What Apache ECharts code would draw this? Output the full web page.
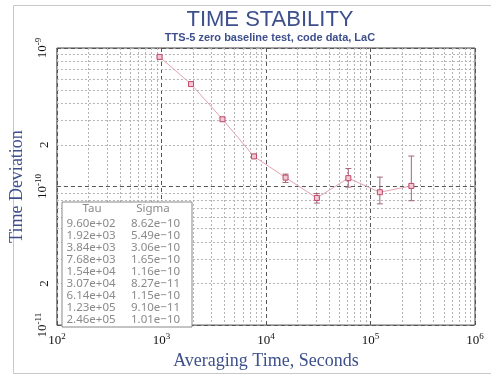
<!DOCTYPE html>
<html><head><meta charset="utf-8">
<script src="https://cdn.jsdelivr.net/npm/echarts@6/dist/echarts.min.js"></script>
<style>html,body{margin:0;padding:0;background:#fff}#c{width:491px;height:375px}</style>
</head><body><div id="c"></div>
<script>
// ---- data ----
const tau = [960, 1920, 3840, 7680, 15400, 30700, 61400, 123000, 246000];
const sigma = [8.62e-10, 5.49e-10, 3.06e-10, 1.65e-10, 1.16e-10, 8.27e-11, 1.15e-10, 9.10e-11, 1.01e-10];
const errLow = [8.45e-10, 5.36e-10, 2.97e-10, 1.60e-10, 1.07e-10, 7.6e-11, 9.9e-11, 7.5e-11, 7.9e-11];
const errHigh = [8.80e-10, 5.62e-10, 3.15e-10, 1.71e-10, 1.23e-10, 8.9e-11, 1.35e-10, 1.17e-10, 1.66e-10];
const xTicks = [1e2, 1e3, 1e4, 1e5, 1e6];
const yTicks = [1e-11, 2e-11, 1e-10, 2e-10, 1e-9];
const tableHeader = ['Tau', 'Sigma'];

const BLUE = '#3d4f8c';
function sci(v){
  let e = Math.floor(Math.log10(v)); let m = v / Math.pow(10, e);
  if (m >= 9.995) { m /= 10; e += 1; }
  return m.toFixed(2) + 'e' + (e < 0 ? '\u2212' : '+') + String(Math.abs(e)).padStart(2, '0');
}
function fmtLog(v){
  const e = Math.round(Math.log10(v));
  const m = v / Math.pow(10, e);
  if (Math.abs(m - 1) < 1e-6) return '{b|10}{s|' + e + '}';
  return '{b|' + Math.round(v / Math.pow(10, Math.floor(Math.log10(v) + 1e-9))) + '}';
}
const rich = {
  b: {fontFamily: 'Liberation Serif', fontSize: 13, color: '#111'},
  s: {fontFamily: 'Liberation Serif', fontSize: 9, color: '#111', padding: [0, 0, 8, 0]}
};

// minor grid positions (axis structure, 2..9 per decade)
const minorGrid = [];
for (let d = 2; d < 6; d++) for (let k = 2; k < 10; k++) minorGrid.push(['x', k * Math.pow(10, d)]);
for (let d = -11; d < -9; d++) for (let k = 2; k < 10; k++) minorGrid.push(['y', k * Math.pow(10, d)]);

const TZ = 100;
const tableEls = [];
const tfont = '11.5px "Noto Sans"';
tableEls.push({type: 'rect', z: TZ, shape: {x: 62, y: 202, width: 130, height: 125},
  style: {fill: '#fff', stroke: '#888', lineWidth: 1}});
tableEls.push({type: 'text', z: TZ + 1, style: {text: tableHeader[0], x: 92, y: 209, align: 'center', verticalAlign: 'middle', font: tfont, fill: '#8a8a8a'}});
tableEls.push({type: 'text', z: TZ + 1, style: {text: tableHeader[1], x: 153, y: 209, align: 'center', verticalAlign: 'middle', font: tfont, fill: '#8a8a8a'}});
tau.forEach((t, i) => {
  const y = 223.3 + i * 12.05;
  tableEls.push({type: 'text', z: TZ + 1, style: {text: sci(t), x: 66.5, y: y, align: 'left', verticalAlign: 'middle', font: tfont, fill: '#8a8a8a'}});
  tableEls.push({type: 'text', z: TZ + 1, style: {text: sci(sigma[i]), x: 131, y: y, align: 'left', verticalAlign: 'middle', font: tfont, fill: '#8a8a8a'}});
});

const chart = echarts.init(document.getElementById('c'), null, {renderer: 'canvas'});
chart.setOption({
  animation: false,
  backgroundColor: '#fff',
  title: [
    {text: 'TIME STABILITY', left: 270, top: 9, textAlign: 'center', padding: 0,
     textStyle: {fontFamily: 'Liberation Sans', fontSize: 22, fontWeight: 'normal', color: BLUE}},
    {text: 'TTS-5 zero baseline test, code data, LaC', left: 270, top: 32, textAlign: 'center', padding: 0,
     textStyle: {fontFamily: 'Liberation Sans', fontSize: 11, fontWeight: 'bold', color: BLUE}}
  ],
  grid: {left: 54, top: 48, right: 16, bottom: 42, show: true, borderColor: '#444', borderWidth: 1},
  xAxis: {
    type: 'log', logBase: 10, min: 100, max: 1e6,
    axisLine: {show: false}, axisTick: {show: false},
    splitLine: {show: true, lineStyle: {color: '#555', type: [4, 3], width: 1}},
    axisLabel: {formatter: fmtLog, rich: rich, margin: 7, customValues: xTicks},
    name: 'Averaging Time, Seconds', nameLocation: 'middle', nameGap: 21,
    nameTextStyle: {fontFamily: 'Liberation Serif', fontSize: 18, color: BLUE}
  },
  yAxis: {
    type: 'log', logBase: 10, min: 1e-11, max: 1e-9,
    axisLine: {show: false}, axisTick: {show: false},
    splitLine: {show: true, lineStyle: {color: '#555', type: [4, 3], width: 1}},
    axisLabel: {formatter: fmtLog, rich: rich, margin: 6, rotate: 90, customValues: yTicks},
    name: 'Time Deviation', nameLocation: 'middle', nameGap: 20,
    nameTextStyle: {fontFamily: 'Liberation Serif', fontSize: 18, color: BLUE}
  },
  graphic: [
    {type: 'rect', z: -10, silent: true, shape: {x: 13.5, y: 5.5, width: 500, height: 368},
     style: {fill: 'none', stroke: '#c8c8c8', lineWidth: 1}},
    {type: 'group', z: TZ, children: tableEls}
  ],
  series: [
    {type: 'custom', z: 1, silent: true,
     data: minorGrid.map(g => [g[0] === 'x' ? 0 : 1, g[1]]),
     encode: {x: -1, y: -1},
     renderItem: function(params, api){
       const cs = params.coordSys;
       const isX = api.value(0) === 0;
       const v = api.value(1);
       const st = {stroke: '#b4b4b4', lineWidth: 1, lineDash: [2, 2]};
       if (isX) {
         const p = api.coord([v, 1e-10]);
         const x = Math.round(p[0]) + 0.5;
         return {type: 'line', shape: {x1: x, y1: cs.y, x2: x, y2: cs.y + cs.height}, style: st};
       } else {
         const p = api.coord([1000, v]);
         const y = Math.round(p[1]) + 0.5;
         return {type: 'line', shape: {x1: cs.x, y1: y, x2: cs.x + cs.width, y2: y}, style: st};
       }
     }},
    {type: 'custom', z: 3,
     data: tau.map((t, i) => [t, errLow[i], errHigh[i]]),
     encode: {x: 0, y: [1, 2]},
     renderItem: function(params, api){
       const x = api.value(0);
       const lo = api.coord([x, api.value(1)]);
       const hi = api.coord([x, api.value(2)]);
       const w = 3;
       const st = {stroke: '#a06878', lineWidth: 1};
       return {type: 'group', children: [
         {type: 'line', shape: {x1: lo[0], y1: lo[1], x2: hi[0], y2: hi[1]}, style: st},
         {type: 'line', shape: {x1: lo[0] - w, y1: lo[1], x2: lo[0] + w, y2: lo[1]}, style: st},
         {type: 'line', shape: {x1: hi[0] - w, y1: hi[1], x2: hi[0] + w, y2: hi[1]}, style: st}
       ]};
     }},
    {type: 'line', z: 4, data: tau.map((t, i) => [t, sigma[i]]),
     lineStyle: {color: '#e3a3b2', width: 1},
     symbol: 'rect', symbolSize: 5, showSymbol: true,
     itemStyle: {color: '#f2c8d2', borderColor: '#c04868', borderWidth: 1}}
  ]
});
</script></body></html>
